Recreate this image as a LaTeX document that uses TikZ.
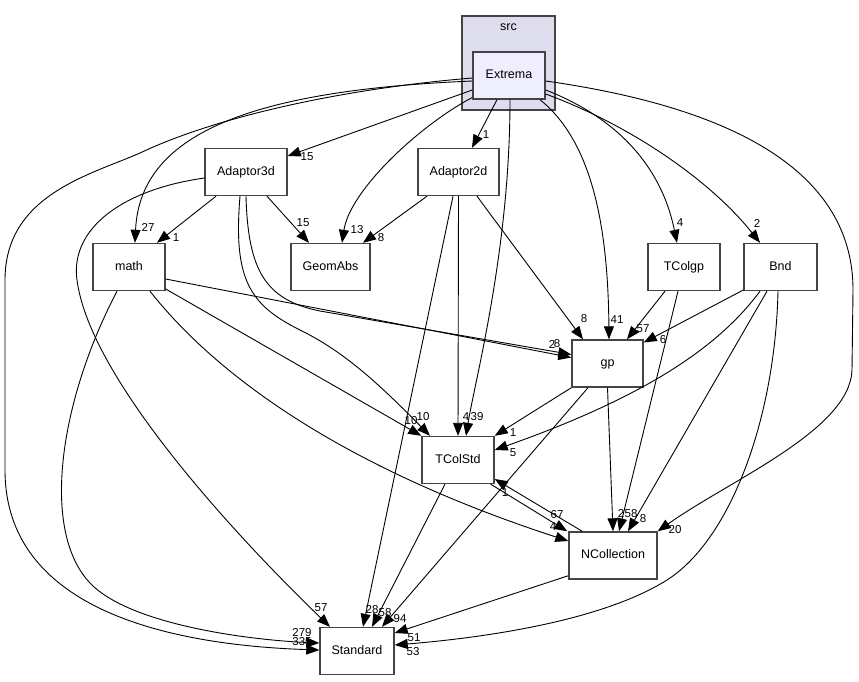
\documentclass[tikz,border=0pt]{standalone}
\usepackage{fontspec}
\setmainfont{Liberation Sans}
\usepackage{tikz}
\usetikzlibrary{arrows.meta,calc}
\definecolor{dirborder}{HTML}{444444}
\definecolor{srcfill}{HTML}{DDDDEE}
\definecolor{extremafill}{HTML}{EEEEFF}

\begin{document}
\begin{tikzpicture}[
    x=1pt, y=-1pt,
    dirbox/.style={rectangle, draw=dirborder, line width=1.4pt, fill=white,
                   minimum height=47pt, inner sep=0pt,
                   text height=9pt, text depth=2.7pt,
                   font=\fontsize{12.5}{15}\selectfont},
    dep/.style={draw=black, line width=0.9pt, -{Triangle[length=13pt,width=10pt]}},
    deplabel/.style={inner sep=0pt, font=\fontsize{11.5}{13}\selectfont}
]
\useasboundingbox (0,0) rectangle (859,681);

% directories
\node[dirbox, minimum width=93pt, minimum height=94pt, fill=srcfill] (src) at (508.5,63) {};
\node[inner sep=0pt, font=\fontsize{12.5}{15}\selectfont] (srclabel) at (508.5,27) {src};
\node[dirbox, minimum width=72pt, fill=extremafill] (Extrema) at (509,75.5) {Extrema};
\node[dirbox, minimum width=82pt] (Adaptor3d) at (246,172) {Adaptor3d};
\node[dirbox, minimum width=81pt] (Adaptor2d) at (458.5,172) {Adaptor2d};
\node[dirbox, minimum width=72pt] (math) at (129,267) {math};
\node[dirbox, minimum width=79pt] (GeomAbs) at (330.5,267) {GeomAbs};
\node[dirbox, minimum width=72pt] (TColgp) at (684,267) {TColgp};
\node[dirbox, minimum width=73pt] (Bnd) at (780.5,267) {Bnd};
\node[dirbox, minimum width=71pt] (gp) at (607.5,363.5) {gp};
\node[dirbox, minimum width=72pt] (TColStd) at (458,460) {TColStd};
\node[dirbox, minimum width=88pt] (NCollection) at (613,555.5) {NCollection};
\node[dirbox, minimum width=74pt] (Standard) at (357,651) {Standard};

% Extrema
\draw[dep] ($(Extrema.west)+(0,2.5)$) .. controls (350,88) and (220,115) .. (140,153)
    .. controls (90,175) and (5,195) .. (5,280) -- (5,470)
    .. controls (5,610) and (170,645) .. ($(Standard.west)+(0,-1)$)
    node[deplabel] at (302,642) {335};
\draw[dep] ($(Extrema.west)+(0,5.5)$) .. controls (260,90) and (140,130) .. ($(math.north)+(6,0)$)
    node[deplabel] at (148,227) {27};
\draw[dep] ($(Extrema.west)+(0,14.5)$) -- ($(Adaptor3d.east)+(0,-16)$)
    node[deplabel] at (307,157) {15};
\draw[dep] ($(Extrema.west)+(0,22)$) .. controls (420,125) and (350,190) .. ($(GeomAbs.north)+(11.5,0)$)
    node[deplabel] at (357,230) {13};
\draw[dep] ($(Extrema.south)+(-12,0)$) -- ($(Adaptor2d.north)+(13.5,0)$)
    node[deplabel] at (486,135) {1};
\draw[dep] ($(Extrema.south)+(1,0)$) .. controls (510,250) and (475,380) .. ($(TColStd.north)+(8,0)$)
    node[deplabel] at (477,417) {39};
\draw[dep] ($(Extrema.south)+(31,0)$) .. controls (590,140) and (608,220) .. ($(gp.north)+(1.5,0)$)
    node[deplabel] at (617,320) {41};
\draw[dep] ($(Extrema.east)+(0,14.5)$) .. controls (610,115) and (660,160) .. ($(TColgp.north)+(-7,0)$)
    node[deplabel] at (680,223) {4};
\draw[dep] ($(Extrema.east)+(0,18.5)$) .. controls (630,125) and (710,180) .. ($(Bnd.north)+(-20.5,0)$)
    node[deplabel] at (757,223) {2};
\draw[dep] ($(Extrema.east)+(0,5.5)$) .. controls (750,110) and (853,180) .. (853,290) -- (852,370)
    .. controls (850,430) and (730,480) .. (NCollection.north east)
    node[deplabel] at (675,530) {20};

% Adaptor3d
\draw[dep] ($(Adaptor3d.south)+(-30,0)$) -- ($(math.north)+(28,0)$)
    node[deplabel] at (176,238) {1};
\draw[dep] ($(Adaptor3d.south)+(21,0)$) -- ($(GeomAbs.north)+(-21.5,0)$)
    node[deplabel] at (303,223) {15};
\draw[dep] ($(Adaptor3d.west)+(0,6)$) .. controls (120,190) and (70,230) .. (77,280)
    .. controls (90,380) and (240,540) .. ($(Standard.north)+(-27,0)$)
    node[deplabel] at (321,608) {57};
\draw[dep] ($(Adaptor3d.south)+(-6,0)$) .. controls (233,280) and (250,305) .. (300,330)
    .. controls (345,352) and (380,385) .. ($(TColStd.north)+(-28,0)$)
    node[deplabel] at (423,417) {10};
\draw[dep] (Adaptor3d.south) .. controls (248,270) and (265,300) .. (320,311) -- ($(gp.west)+(0,-9)$)
    node[deplabel] at (557,344) {8};

% math
\draw[dep] ($(math.east)+(0,12)$) -- ($(gp.west)+(0,-6)$)
    node[deplabel] at (552,344) {2};
\draw[dep] ($(math.east)+(0,22)$) -- (TColStd.north west)
    node[deplabel] at (411,421) {10};
\draw[dep] ($(math.south)+(21,0)$) .. controls (220,380) and (350,470) .. ($(NCollection.west)+(0,-14.5)$)
    node[deplabel] at (553,527) {4};
\draw[dep] ($(math.south)+(-12,0)$) .. controls (60,400) and (40,530) .. (90,583)
    .. controls (130,625) and (250,640) .. ($(Standard.west)+(0,-8)$)
    node[deplabel] at (302,633) {279};

% Adaptor2d
\draw[dep] ($(Adaptor2d.south)+(-31.5,0)$) -- ($(GeomAbs.north)+(32.5,0)$)
    node[deplabel] at (381,238) {8};
\draw[dep] ($(Adaptor2d.south)+(-5.5,0)$) -- ($(Standard.north)+(6,0)$)
    node[deplabel] at (372,610) {28};
\draw[dep] (Adaptor2d.south) -- (TColStd.north)
    node[deplabel] at (466,417) {4};
\draw[dep] ($(Adaptor2d.south)+(18.5,0)$) -- ($(gp.north)+(-24.5,0)$)
    node[deplabel] at (584,319) {8};

% TColgp
\draw[dep] ($(TColgp.south)+(-19,0)$) -- ($(gp.north)+(19.5,0)$)
    node[deplabel] at (643,329) {57};
\draw[dep] ($(TColgp.south)+(-6,0)$) -- ($(NCollection.north)+(6,0)$)
    node[deplabel] at (631,514) {58};

% Bnd
\draw[dep] ($(Bnd.west)+(0,23)$) -- ($(gp.east)+(0,-21)$)
    node[deplabel] at (663,340) {6};
\draw[dep] ($(Bnd.south)+(-20.5,0)$) .. controls (720,345) and (650,395) .. ($(TColStd.east)+(0,-10)$)
    node[deplabel] at (513,453) {5};
\draw[dep] ($(Bnd.south)+(-13.5,0)$) -- ($(NCollection.north)+(15,0)$)
    node[deplabel] at (643,519) {8};
\draw[dep] ($(Bnd.south)+(-2.5,0)$) .. controls (775,420) and (730,540) .. (667,580)
    .. controls (600,622) and (480,638) .. ($(Standard.east)+(0,-6)$)
    node[deplabel] at (413,652) {53};

% gp
\draw[dep] (gp.south west) -- (TColStd.north east)
    node[deplabel] at (513,433) {1};
\draw[dep] ($(gp.south)+(-19.5,0)$) -- ($(Standard.north)+(25,0)$)
    node[deplabel] at (400,619) {94};
\draw[dep] (gp.south) -- (NCollection.north)
    node[deplabel] at (621,513) {2};

% TColStd
\draw[dep] ($(TColStd.south east)+(-4,0)$) -- ($(NCollection.north west)+(-1,0)$)
    node[deplabel] at (557,515) {67};
\draw[dep] ($(TColStd.south)+(-13,0)$) -- ($(Standard.north)+(15,0)$)
    node[deplabel] at (385,613) {58};

% NCollection
\draw[dep] ($(NCollection.north west)+(14,0)$) -- ($(TColStd.east)+(0,19)$)
    node[deplabel] at (505,493) {1};
\draw[dep] ($(NCollection.south west)+(0,-4)$) -- ($(Standard.east)+(0,-18)$)
    node[deplabel] at (414,638) {51};
\end{tikzpicture}
\end{document}
